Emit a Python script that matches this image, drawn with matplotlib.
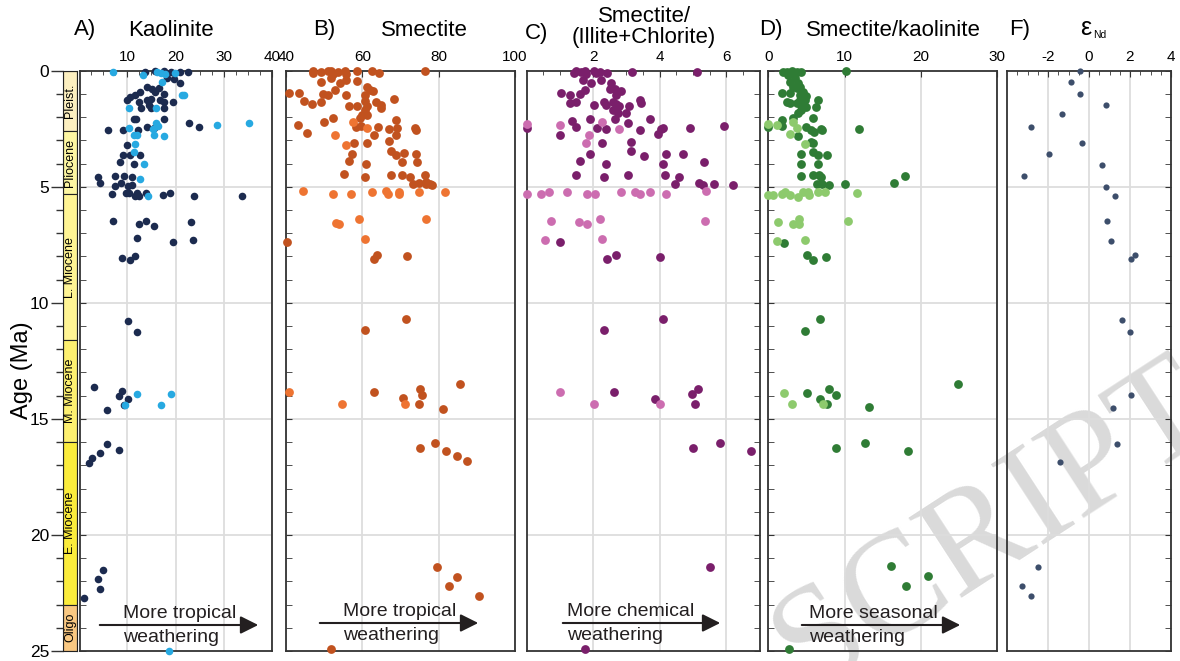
import matplotlib
matplotlib.use('Agg')
import matplotlib.pyplot as plt
from matplotlib.patches import Rectangle, FancyArrowPatch

plt.rcParams['font.family'] = ['Liberation Sans', 'DejaVu Sans']
plt.rcParams['axes.unicode_minus'] = False

#values, (value, age in Ma)
kao_dark = [(13.75,0.04),(15.8,0),(17.6,0),(19.0,0.04),(21.0,0.04),(22.6,0.04),(18.3,0.33),(19.7,0.37),
    (21.0,0.52),(16.5,0.76),(15.1,0.8),(14.1,0.72),(12.7,0.9),(15.8,0.9),(17.6,1.0),(11.7,1.05),(10.6,1.12),
    (9.9,1.26),(14.0,1.26),(15.0,1.2),(16.7,1.26),(12.5,1.33),(14.5,1.48),(17.6,1.33),(19.4,1.33),(12.8,1.61),
    (15.0,1.61),(17.7,1.61),(11.3,2.1),(11.8,2.1),(17.7,2.1),(15.6,2.45),(22.8,2.27),(24.85,2.41),(14.0,2.41),
    (6.1,2.56),(9.2,2.56),(12.3,2.56),(9.9,3.19),(9.2,3.63),(10.6,3.63),(12.7,3.63),(8.5,3.95),(11.3,4.0),
    (4.0,4.6),(4.4,4.82),(7.5,4.55),(9.4,4.55),(11.0,4.57),(7.5,4.95),(8.8,4.85),(10.1,4.95),(10.9,4.93),
    (6.8,5.31),(9.8,5.26),(10.3,5.26),(11.5,5.4),(12.4,5.4),(12.0,5.26),(13.9,5.26),(17.5,5.37),(18.8,5.26),
    (23.8,5.4),(33.75,5.4),(7.1,6.46),(12.5,6.6),(13.9,6.46),(15.6,6.68),(23.3,6.53),(12.0,7.2),(19.4,7.38),
    (23.7,7.3),(9.0,8.07),(10.6,8.16),(11.7,7.99),(10.1,10.8),(12.0,11.26),(3.2,13.63),(9.0,13.79),(8.2,14.0),
    (10.2,14.16),(9.4,14.4),(5.9,14.62),(5.9,16.09),(8.2,16.32),(4.4,16.46),(2.6,16.68),(2.1,16.92),
    (4.9,21.49),(3.9,21.88),(4.4,22.34),(1.0,22.72)]
kao_light = [(7.1,0.04),(13.3,0.19),(16.2,0.04),(16.9,0.1),(17.9,0.14),(19.8,0.1),(17.2,0.47),(21.4,1.05),
    (21.7,1.05),(10.4,1.61),(16.0,1.61),(15.9,2.24),(16.3,2.4),(15.3,2.52),(28.7,2.34),(35.3,2.27),(10.4,2.49),
    (11.4,2.77),(12.1,2.77),(15.6,2.77),(17.7,2.82),(11.6,3.15),(11.3,3.49),(13.4,4.0),(12.6,4.65),(14.2,5.39),
    (12.0,13.94),(19.1,13.94),(9.6,14.4),(16.9,14.4),(18.75,25.0)]

sme_dark = [(47.1,0),(47.1,0.1),(49.3,0.04),(51.0,0),(51.9,0),(52.3,0.14),(53.7,0.04),(55.4,0),(55.8,0.15),
    (58.5,0.03),(62.6,0.03),(64.3,0.1),(76.3,0.03),(49.3,0.47),(51.9,0.33),(54.1,0.55),(55.8,0.4),(58.5,0.43),
    (52.8,0.83),(40.9,0.97),(43.5,0.97),(49.7,1.02),(51.0,1.05),(55.8,1.05),(61.1,0.72),(62.0,0.83),(62.9,0.86),
    (60.6,1.05),(44.7,1.3),(46.8,1.44),(49.2,1.36),(56.5,1.5),(58.6,1.5),(60.6,1.3),(61.1,1.5),(63.7,1.36),
    (65.0,1.47),(65.0,1.61),(68.2,1.2),(60.6,1.7),(59.8,1.91),(61.1,1.91),(59.4,2.05),(52.3,2.05),(50.0,2.2),
    (68.9,2.13),(43.2,2.34),(58.3,2.41),(59.6,2.38),(64.1,2.41),(66.9,2.53),(69.0,2.46),(73.7,2.46),(74.1,2.56),
    (45.6,2.7),(63.1,2.75),(68.9,2.75),(66.9,3.03),(57.8,3.1),(61.3,3.1),(57.2,3.59),(67.4,3.46),(68.9,3.63),
    (70.8,3.56),(74.1,3.6),(56.4,3.88),(70.3,3.95),(74.3,3.95),(60.9,4.02),(55.2,4.43),(60.6,4.57),(67.4,4.5),
    (70.3,4.5),(72.6,4.6),(76.3,4.49),(73.4,4.9),(74.8,4.83),(76.8,4.78),(77.8,4.86),(78.2,4.94),(76.6,4.9),
    (40.3,7.4),(63.1,8.1),(63.9,7.95),(71.8,8.0),(71.5,10.69),(60.6,11.19),(63.0,13.85),(75.2,13.72),
    (75.7,13.95),(85.7,13.51),(70.6,14.12),(74.8,14.35),(81.2,14.57),(75.2,16.25),(79.1,16.03),(82.0,16.39),
    (84.8,16.6),(87.3,16.81),(79.6,21.38),(84.8,21.8),(82.8,22.2),(90.5,22.65),(51.7,24.9)]
sme_light = [(57.6,2.2),(61.3,2.49),(52.8,2.75),(55.7,3.18),(44.4,5.2),(52.3,5.33),(56.9,5.33),(62.6,5.22),
    (66.1,5.17),(66.8,5.33),(69.5,5.22),(69.5,5.33),(74.8,5.22),(81.6,5.22),(53.2,6.54),(53.9,6.6),(59.0,6.4),
    (76.7,6.4),(60.6,7.26),(40.8,13.85),(54.8,14.35),(71.1,14.35)]

sic_dark = [(1.42,0.11),(1.50,0),(1.65,0.04),(1.75,0),(1.80,0.14),(2.02,0),(2.10,0.11),(2.20,0.04),(2.42,0.09),
    (3.18,0.04),(5.13,0.04),(1.70,0.4),(1.95,0.52),(2.25,0.4),(2.55,0.52),(1.75,0.81),(1.05,0.97),(1.30,1.04),
    (1.60,1.0),(2.50,0.77),(2.65,0.77),(2.85,0.86),(2.70,1.05),(1.30,1.4),(1.50,1.33),(2.02,1.48),(2.32,1.33),
    (2.40,1.48),(2.60,1.33),(2.70,1.44),(2.78,1.53),(3.08,1.53),(3.40,1.26),(3.45,1.4),(2.60,1.7),(2.75,1.84),
    (2.98,1.82),(2.65,2.1),(1.38,2.17),(1.90,2.1),(3.72,2.1),(0,2.45),(1.48,2.44),(2.12,2.45),(2.40,2.53),
    (3.05,2.27),(3.40,2.56),(4.05,2.53),(4.10,2.48),(3.95,2.73),(4.92,2.45),(5.94,2.39),(1.0,2.75),(2.28,3.1),
    (3.15,3.06),(1.92,3.6),(3.15,3.44),(3.53,3.66),(4.20,3.59),(4.69,3.59),(1.6,3.89),(2.38,4.0),(4.10,4.02),
    (5.32,3.95),(1.48,4.5),(2.33,4.57),(3.05,4.5),(4.15,4.5),(4.58,4.57),(4.47,4.86),(5.19,4.83),(5.31,4.93),
    (5.62,4.86),(6.19,4.93),(1.0,7.38),(2.43,8.1),(2.68,7.94),(4.0,8.01),(4.10,10.69),(2.33,11.19),(2.63,13.85),
    (5.16,13.72),(4.96,13.94),(3.85,14.15),(5.07,14.36),(5.01,16.25),(5.82,16.03),(6.73,16.39),(5.51,21.38),
    (1.77,24.9)]
sic_light = [(2.28,2.2),(1.02,2.34),(0,2.3),(2.78,2.53),(1.88,2.75),(1.80,3.1),(5.40,5.2),(0,5.33),(0.45,5.33),
    (0.67,5.22),(1.23,5.22),(1.82,5.33),(2.05,5.33),(2.85,5.22),(3.25,5.22),(3.40,5.33),(3.70,5.22),(4.20,5.33),
    (0.75,6.46),(1.57,6.53),(1.82,6.6),(2.22,6.4),(5.37,6.46),(0.55,7.31),(2.28,7.25),(1.0,13.85),(4.0,14.36),
    (2.03,14.36)]

sk_dark = [(1.96,0.04),(2.4,0.04),(3.05,0),(3.26,0.1),(3.7,0.04),(4.35,0.04),(2.6,0.2),(3.5,0.3),(10.2,0),
    (2.83,0.47),(3.9,0.55),(3.26,0.7),(3.7,0.76),(4.1,0.7),(4.57,0.9),(1.74,0.97),(2.83,0.97),(4.13,1.05),
    (4.98,1.09),(2.4,1.33),(4.13,1.26),(4.78,1.26),(6.52,1.26),(3.7,1.4),(4.35,1.48),(4.98,1.55),(6.2,1.55),
    (2.83,1.4),(4.35,1.7),(3.9,1.84),(3.26,2.05),(1.74,2.12),(5.87,2.05),(0,2.41),(1.85,2.39),(4.98,2.44),
    (5.6,2.56),(6.9,2.5),(7.1,2.55),(6.0,2.62),(11.9,2.53),(3.9,2.82),(5.6,3.06),(5.8,3.1),(4.35,3.6),(5.9,3.5),
    (6.5,3.64),(7.74,3.64),(4.35,4.0),(6.5,4.0),(4.35,4.55),(5.9,4.5),(6.6,4.5),(6.9,4.57),(6.4,4.9),(7.1,4.88),
    (8.0,4.93),(10.0,4.9),(16.5,4.85),(17.9,4.55),(2.0,7.41),(5.1,7.94),(5.8,8.17),(7.54,8.03),(6.83,10.7),
    (4.8,11.2),(5.08,13.87),(7.96,13.73),(8.9,13.95),(6.78,14.16),(7.74,14.37),(13.26,14.5),(24.9,13.5),
    (8.9,16.25),(12.65,16.03),(18.34,16.39),(16.1,21.35),(21.0,21.78),(18.1,22.2),(2.7,24.9)]
sk_light = [(0,2.3),(1.1,2.34),(3.26,2.2),(3.7,2.49),(2.83,2.72),(4.78,3.16),(0,5.36),(0.6,5.36),(1.74,5.31),
    (2.17,5.22),(2.9,5.36),(3.9,5.44),(4.5,5.22),(5.2,5.22),(5.4,5.36),(6.5,5.22),(7.5,5.22),(11.6,5.25),
    (1.3,6.5),(3.26,6.6),(4.0,6.4),(4.0,6.62),(10.5,6.49),(1.1,7.34),(4.78,7.28),(2.09,13.87),(3.09,14.37),
    (7.17,14.37)]

end_vals = [-0.44,-0.88,-0.44,0.81,-1.33,-2.81,-0.33,-1.93,0.65,-3.19,0.81,1.27,0.89,1.09,2.24,2.07,1.63,1.98,
    2.07,1.17,1.35,-1.40,-2.47,-3.27,-2.81]
end_ages = [0.0,0.47,1.02,1.47,1.88,2.42,3.12,3.59,4.07,4.53,5.0,5.39,6.47,7.34,7.95,8.1,10.76,11.24,13.97,
    14.51,16.07,16.85,21.36,22.2,22.63]

#time scale column
epochs = ['Pleist.', 'Pliocene', 'L. Miocene', 'M. Miocene', 'E. Miocene', 'Oligo']
epoch_top = [0, 2.6, 5.33, 11.6, 16.0, 23.0]
epoch_base = [2.6, 5.33, 11.6, 16.0, 23.0, 25.0]
epoch_col = ['#fcefc0', '#fdf6a2', '#fff494', '#fdf070', '#fbec3c', '#f9c882']

W, H = 1180, 661
fig = plt.figure(figsize=(W/100, H/100), dpi=100)

def box(x0, x1, y0=70.7, y1=651):
    return [x0/W, 1-y1/H, (x1-x0)/W, (y1-y0)/H]

#watermark left over from the source, sits behind the panels
fig.text(807/W, 1-692/H, 'SCRIPT', rotation=33, rotation_mode='anchor', ha='left', va='baseline',
         fontsize=105, family='Liberation Serif', color='#dadada', zorder=-1)

#geologic column with the age axis
col = fig.add_axes(box(63, 77))
col.set_xlim(0, 1)
col.set_ylim(25, 0)
for name, t, b, c in zip(epochs, epoch_top, epoch_base, epoch_col):
    col.add_patch(Rectangle((0, t), 1, b-t, facecolor=c, edgecolor='#222222', lw=0.8))
    col.text(0.5, (t+b)/2, name, rotation=90, ha='center', va='center', fontsize=9)
col.set_xticks([])
col.set_yticks(range(0, 26, 5))
col.set_yticks(range(0, 26), minor=True)
col.tick_params(axis='y', which='major', length=9, width=1, labelsize=12.5, pad=1, color='#333333')
col.tick_params(axis='y', which='minor', length=5, width=1, color='#333333')
for s in col.spines.values():
    s.set_color('#222222')
fig.text(22/W, 1-370/H, 'Age (Ma)', rotation=90, ha='center', va='center', fontsize=17)

def panel(x0, x1, xlim, ticks, minor, side):
    ax = fig.add_axes(box(x0, x1))
    ax.patch.set_visible(False)
    ax.set_xlim(xlim)
    ax.set_ylim(25, 0)
    ax.xaxis.tick_top()
    ax.set_xticks(ticks)
    ax.set_xticks(minor, minor=True)
    ax.set_yticks([5, 10, 15, 20])
    ax.set_yticks(range(0, 26), minor=True)
    ax.grid(True, which='major', color='#dddddd', lw=1.3)
    ax.set_axisbelow(True)
    ax.tick_params(axis='x', which='major', direction='in', length=4, labelsize=11, pad=5, color='#333333')
    ax.tick_params(axis='x', which='minor', direction='in', length=3, color='#333333')
    ax.tick_params(axis='y', which='both', direction='in', length=4, labelleft=False,
                   left=(side == 'left'), right=(side == 'right'), color='#333333')
    for s in ax.spines.values():
        s.set_color('#333333')
        s.set_linewidth(1.3)
    return ax

def dots(ax, pts, color, size):
    ax.scatter([p[0] for p in pts], [p[1] for p in pts], s=size, color=color, lw=0, clip_on=False, zorder=3)

axA = panel(80, 272, (0.2, 40), [10, 20, 30, 40], [2.5*i for i in range(1, 16)], 'left')
dots(axA, kao_dark, '#1c2b4f', 30)
dots(axA, kao_light, '#27a9e1', 30)

axB = panel(286, 515, (40, 100), [40, 60, 80, 100], [], 'left')
dots(axB, sme_dark, '#c1521f', 40)
dots(axB, sme_light, '#ee7432', 40)

axC = panel(526.5, 759.5, (0, 7), [2, 4, 6], [0.5*i for i in range(1, 14)], 'right')
dots(axC, sic_dark, '#7a1f6b', 40)
dots(axC, sic_light, '#cc6db0', 40)

axD = panel(768.3, 997, (0, 30), [0, 10, 20, 30], [], 'left')
dots(axD, sk_dark, '#2f7c35', 40)
dots(axD, sk_light, '#8dca6d', 40)

axF = panel(1007, 1171, (-4, 4), [-2, 0, 2, 4], [0.5*i - 4 for i in range(1, 16)], 'right')
axF.scatter(end_vals, end_ages, s=20, color='#3d4e6b', lw=0, clip_on=False, zorder=3)

#panel titles
fig.text(85/W, 1-30/H, 'A)', ha='center', va='center', fontsize=16)
fig.text(171/W, 1-30/H, 'Kaolinite', ha='center', va='center', fontsize=16)
fig.text(324/W, 1-30/H, 'B)', ha='center', va='center', fontsize=16)
fig.text(424/W, 1-30/H, 'Smectite', ha='center', va='center', fontsize=16)
fig.text(537/W, 1-34/H, 'C)', ha='center', va='center', fontsize=16)
fig.text(644/W, 1-16/H, 'Smectite/', ha='center', va='center', fontsize=16)
fig.text(644/W, 1-38/H, '(Illite+Chlorite)', ha='center', va='center', fontsize=16)
fig.text(771/W, 1-30/H, 'D)', ha='center', va='center', fontsize=16)
fig.text(893/W, 1-30/H, 'Smectite/kaolinite', ha='center', va='center', fontsize=16)
fig.text(1020/W, 1-30/H, 'F)', ha='center', va='center', fontsize=16)
fig.text(1086/W, 1-28/H, 'ε', ha='center', va='center', fontsize=18)
fig.text(1093/W, 1-35/H, 'Nd', ha='left', va='center', fontsize=7.5)

#weathering arrows
arrows = [(97, 261, 625, 123, 'More tropical'), (317, 481, 623, 343, 'More tropical'),
          (560, 723, 623, 567, 'More chemical'), (799, 963, 625, 809, 'More seasonal')]
for x0, x1, y, tx, label in arrows:
    arr = FancyArrowPatch((x0/W, 1-y/H), (x1/W, 1-y/H), transform=fig.transFigure,
                          arrowstyle='-|>,head_length=0.6,head_width=0.3', mutation_scale=18,
                          lw=1.5, color='#231f20', zorder=5)
    fig.add_artist(arr)
    fig.text(tx/W, 1-(y-12)/H, label, ha='left', va='center', fontsize=14, color='#231f20')
    fig.text(tx/W, 1-(y+12)/H, 'weathering', ha='left', va='center', fontsize=14, color='#231f20')

fig.savefig('out.png', dpi=100)
